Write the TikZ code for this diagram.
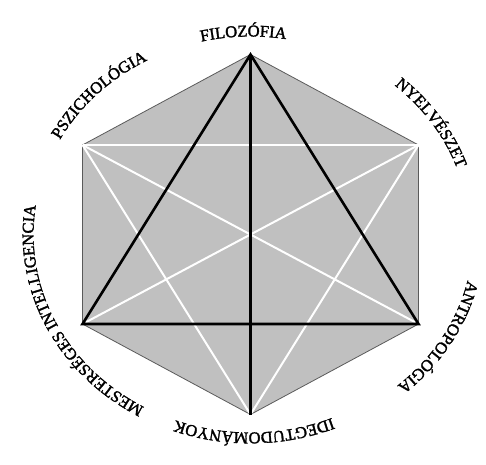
\documentclass[tikz,border=0pt]{standalone}
\usepackage{fontspec}
\setmainfont{Liberation Serif}
\usetikzlibrary{decorations.text}
\definecolor{hex-gray}{HTML}{C0C0C0}
\definecolor{hex-edge}{HTML}{5A5A5A}
\newfontfamily\lblfamily[FakeBold=1.8]{Liberation Serif}
\newcommand{\lblfont}{\lblfamily\fontsize{16.5}{16.5}\selectfont}

\begin{document}
\begin{tikzpicture}[x=1pt, y=1pt,
    hexface/.style={fill=hex-gray, draw=hex-edge, line width=0.8pt},
    blackline/.style={line width=2.6pt, black},
    whiteline/.style={line width=2pt, white},
    lbl/.style={decorate, decoration={text along path, text align=center, text={|\lblfont|#1}}}]
  \useasboundingbox (0,0) rectangle (486,464);
  \coordinate (c) at (250.5,229.5);
  \coordinate (fil) at (250.5,409.5);
  \coordinate (nyelv) at (418.5,319);
  \coordinate (antro) at (418.5,140);
  \coordinate (ideg) at (250.5,49.5);
  \coordinate (mest) at (82.5,140);
  \coordinate (pszich) at (82.5,319);
  \draw[hexface] (fil) -- (nyelv) -- (antro) -- (ideg) -- (mest) -- (pszich) -- cycle;
  \draw[whiteline] (pszich) -- (nyelv);
  \draw[whiteline] (pszich) -- (antro);
  \draw[whiteline] (nyelv) -- (mest);
  \draw[whiteline] (pszich) -- (ideg);
  \draw[whiteline] (nyelv) -- (ideg);
  \draw[blackline] (fil) -- (antro) -- (mest) -- cycle;
  \draw[blackline] (fil) -- (ideg);
  \path[lbl=FILOZÓFIA] (c) ++(162:217 and 198) arc[start angle=162, end angle=22, x radius=217, y radius=198];
  \path[lbl=NYELVÉSZET] (c) ++(102:219 and 198) arc[start angle=102, end angle=-38, x radius=219, y radius=198];
  \path[lbl=ANTROPOLÓGIA] (c) ++(41:223 and 201) arc[start angle=41, end angle=-99, x radius=223, y radius=201];
  \path[lbl=IDEGTUDOMÁNYOK] (c) ++(-19:217 and 198) arc[start angle=-19, end angle=-159, x radius=217, y radius=198];
  \path[lbl=MESTERSÉGES INTELLIGENCIA] (c) ++(275:217 and 198) arc[start angle=275, end angle=135, x radius=217, y radius=198];
  \path[lbl=PSZICHOLÓGIA] (c) ++(207:217 and 198) arc[start angle=207, end angle=67, x radius=217, y radius=198];
\end{tikzpicture}
\end{document}
